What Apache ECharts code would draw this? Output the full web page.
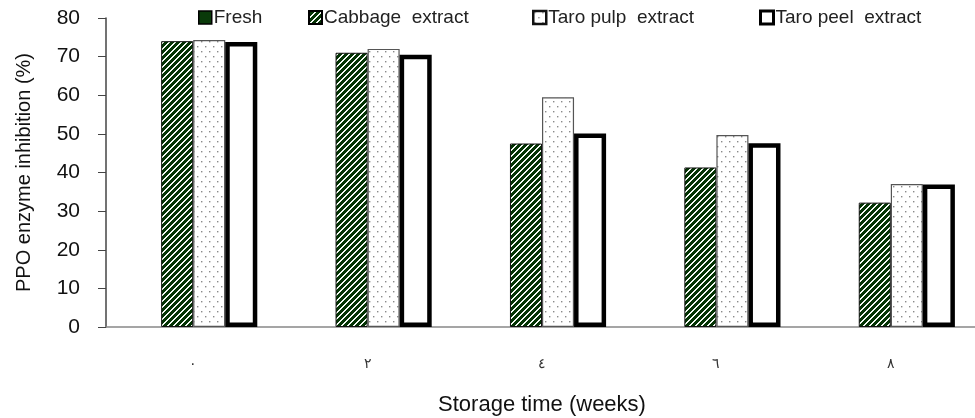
<!DOCTYPE html>
<html><head><meta charset="utf-8">
<script src="https://cdn.jsdelivr.net/npm/echarts@6/dist/echarts.min.js"></script>
<style>html,body{margin:0;padding:0;background:#fff}#c{width:975px;height:418px}</style>
</head><body><div id="c"></div>
<script>
const categories = ['٠', '٢', '٤', '٦', '٨'];
const seriesNames = ['Fresh', 'Cabbage extract', 'Taro pulp extract', 'Taro peel extract'];
const fresh = [null, null, null, null, null];
const cabbage = [74.0, 71.0, 47.5, 41.3, 32.2];
const taroPulp = [74.3, 72.0, 59.5, 49.7, 37.0];
const taroPeel = [73.8, 70.5, 50.1, 47.6, 36.9];
const yTicks = [0, 10, 20, 30, 40, 50, 60, 70, 80];

function hatch() {
  const n = 6;
  const c = document.createElement('canvas'); c.width = n; c.height = n;
  const g = c.getContext('2d');
  const img = g.createImageData(n, n);
  for (let y = 0; y < n; y++) for (let x = 0; x < n; x++) {
    const k = (x + y) % n;
    const white = (k === 0 || k === 1);
    const i = (y * n + x) * 4;
    if (white) { img.data[i] = 245; img.data[i+1] = 250; img.data[i+2] = 245; }
    else { img.data[i] = 4; img.data[i+1] = 52; img.data[i+2] = 4; }
    img.data[i+3] = 255;
  }
  g.putImageData(img, 0, 0);
  return c;
}
function dots() {
  const c = document.createElement('canvas'); c.width = 8; c.height = 10;
  const g = c.getContext('2d');
  g.fillStyle = '#ffffff'; g.fillRect(0, 0, 8, 10);
  g.fillStyle = '#8a8a8a';
  g.fillRect(1, 1, 1.4, 1.4);
  g.fillRect(5, 6, 1.4, 1.4);
  return c;
}
const font = '"Liberation Sans", Arial, sans-serif';
const hatchPat = {image: hatch(), repeat: 'repeat'};
const dotPat = {image: dots(), repeat: 'repeat'};
function lg(left, name, style) {
  return {
    top: 8, left: left, itemWidth: 13, itemHeight: 13, itemGap: 0, icon: 'rect',
    padding: 0,
    textStyle: {fontFamily: font, fontSize: 19, color: '#222', padding: [0, 0, 0, -3]},
    formatter: n => n.replace(' extract', '  extract'),
    data: [{name: name, itemStyle: style}]
  };
}
const chart = echarts.init(document.getElementById('c'), null, {renderer: 'canvas'});
chart.setOption({
  animation: false,
  backgroundColor: '#fff',
  legend: [
    lg(198, seriesNames[0], {color: '#0a3a0a', borderColor: '#000', borderWidth: 1.5}),
    lg(308, seriesNames[1], {color: hatchPat, borderColor: '#000', borderWidth: 2}),
    lg(532, seriesNames[2], {color: dotPat, borderColor: '#111', borderWidth: 2.5}),
    lg(759, seriesNames[3], {color: '#fff', borderColor: '#000', borderWidth: 3})
  ],
  grid: {left: 106, right: -3, top: 18, bottom: 91, outerBoundsMode: 'none'},
  xAxis: {
    type: 'category', data: categories,
    name: 'Storage time (weeks)', nameLocation: 'middle', nameGap: 67,
    nameTextStyle: {fontFamily: font, fontSize: 22, color: '#111'},
    axisLine: {lineStyle: {color: '#888', width: 1.5}},
    axisTick: {length: 6, lineStyle: {color: '#444'}},
    axisLabel: {margin: 30, fontSize: 14, color: '#333', fontFamily: font}
  },
  yAxis: {
    type: 'value', min: yTicks[0], max: yTicks[yTicks.length - 1], interval: 10,
    name: 'PPO enzyme inhibition (%)', nameLocation: 'middle', nameGap: 72,
    nameTextStyle: {fontFamily: font, fontSize: 20, color: '#111'},
    axisLine: {show: true, lineStyle: {color: '#444', width: 1.5}},
    axisTick: {show: true, length: 8, lineStyle: {color: '#444'}},
    splitLine: {show: false},
    axisLabel: {fontSize: 21, color: '#111', margin: 26, fontFamily: font}
  },
  series: [
    {name: seriesNames[0], type: 'bar', data: fresh, barGap: '0%', barCategoryGap: '26.5%',
     itemStyle: {color: '#0a3a0a', borderColor: '#000', borderWidth: 1}},
    {name: seriesNames[1], type: 'bar', data: cabbage,
     itemStyle: {color: hatchPat, borderColor: '#111', borderWidth: 1}},
    {name: seriesNames[2], type: 'bar', data: taroPulp,
     itemStyle: {color: dotPat, borderColor: '#555', borderWidth: 1.2}},
    {name: seriesNames[3], type: 'bar', data: taroPeel,
     itemStyle: {color: '#fff', borderColor: '#000', borderWidth: 4.5}}
  ]
});
</script></body></html>
